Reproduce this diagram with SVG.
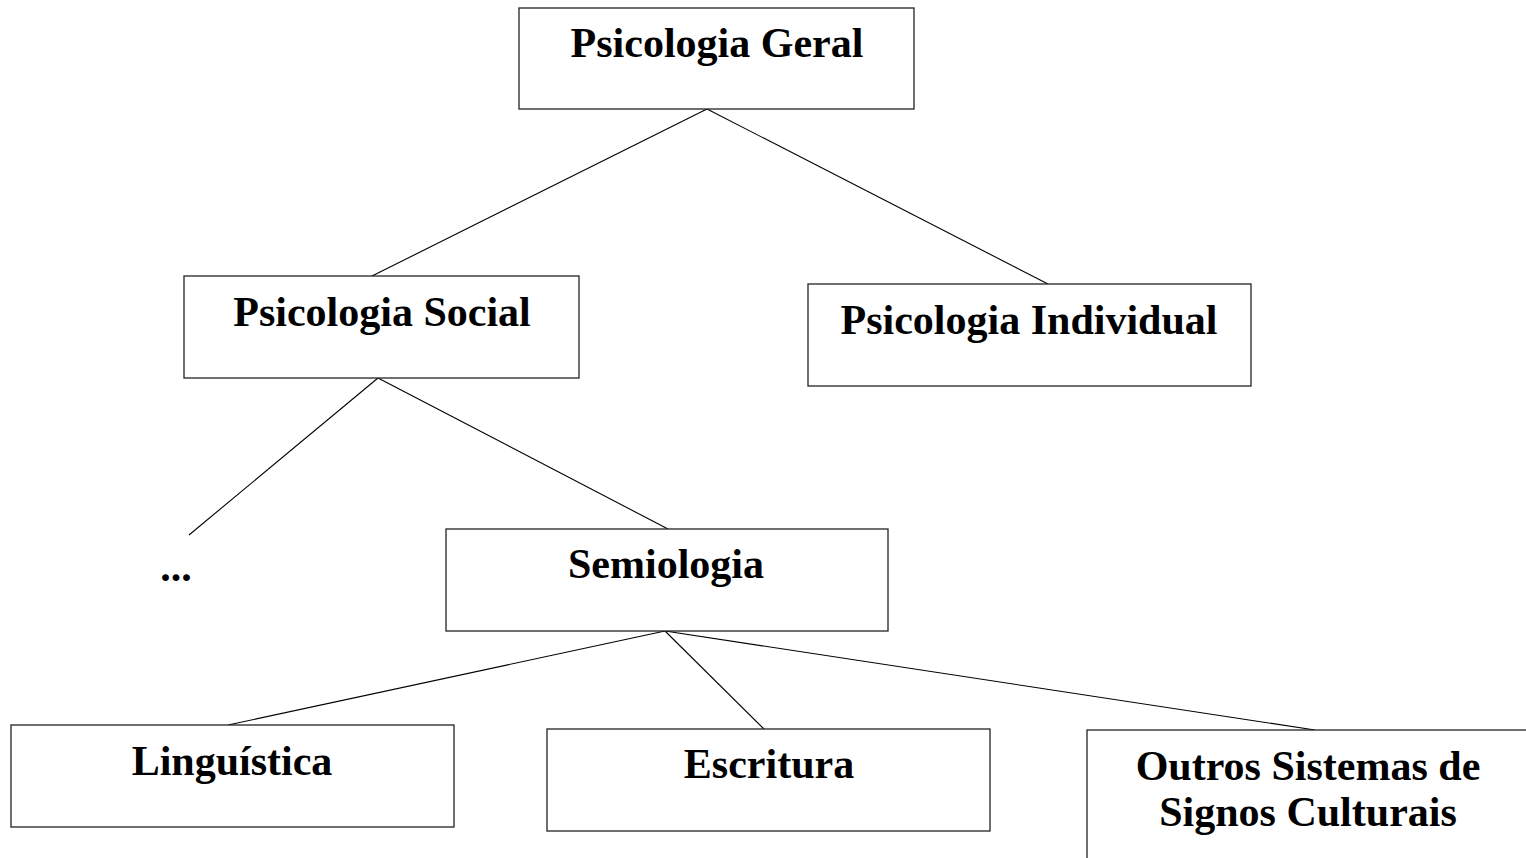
<svg xmlns="http://www.w3.org/2000/svg" width="1526" height="858" viewBox="0 0 1526 858">
<style>
.box{fill:#fff;stroke:#222;stroke-width:1.3}
.lbl{font-family:"Liberation Serif","Times New Roman",serif;font-weight:bold;font-size:42px;fill:#000;text-anchor:middle}
.conn line{stroke:#000;stroke-width:1.1}
</style>
<rect width="1526" height="858" fill="#fff"/>
<g id="connectors" class="conn">
<line x1="707" y1="109" x2="372" y2="276"/>
<line x1="707" y1="109" x2="1048" y2="284"/>
<line x1="378" y1="378" x2="189" y2="535"/>
<line x1="378" y1="378" x2="668" y2="529"/>
<line x1="665" y1="631" x2="228" y2="725"/>
<line x1="665" y1="631" x2="764" y2="729"/>
<line x1="665" y1="631" x2="1315" y2="730"/>
</g>
<g id="psicologia-geral"><rect class="box" x="519" y="8" width="395" height="101"/><text class="lbl" x="717" y="57">Psicologia Geral</text></g>
<g id="psicologia-social"><rect class="box" x="184" y="276" width="395" height="102"/><text class="lbl" x="382" y="326">Psicologia Social</text></g>
<g id="psicologia-individual"><rect class="box" x="808" y="284" width="443" height="102"/><text class="lbl" x="1029" y="334">Psicologia Individual</text></g>
<g id="ellipsis"><text class="lbl" x="176" y="581">...</text></g>
<g id="semiologia"><rect class="box" x="446" y="529" width="442" height="102"/><text class="lbl" x="666" y="578">Semiologia</text></g>
<g id="linguistica"><rect class="box" x="11" y="725" width="443" height="102"/><text class="lbl" x="232" y="775">Linguística</text></g>
<g id="escritura"><rect class="box" x="547" y="729" width="443" height="102"/><text class="lbl" x="769" y="778">Escritura</text></g>
<g id="outros"><rect class="box" x="1087" y="730" width="443" height="140"/><text class="lbl" x="1308" y="780">Outros Sistemas de</text><text class="lbl" x="1308" y="826">Signos Culturais</text></g>
</svg>
